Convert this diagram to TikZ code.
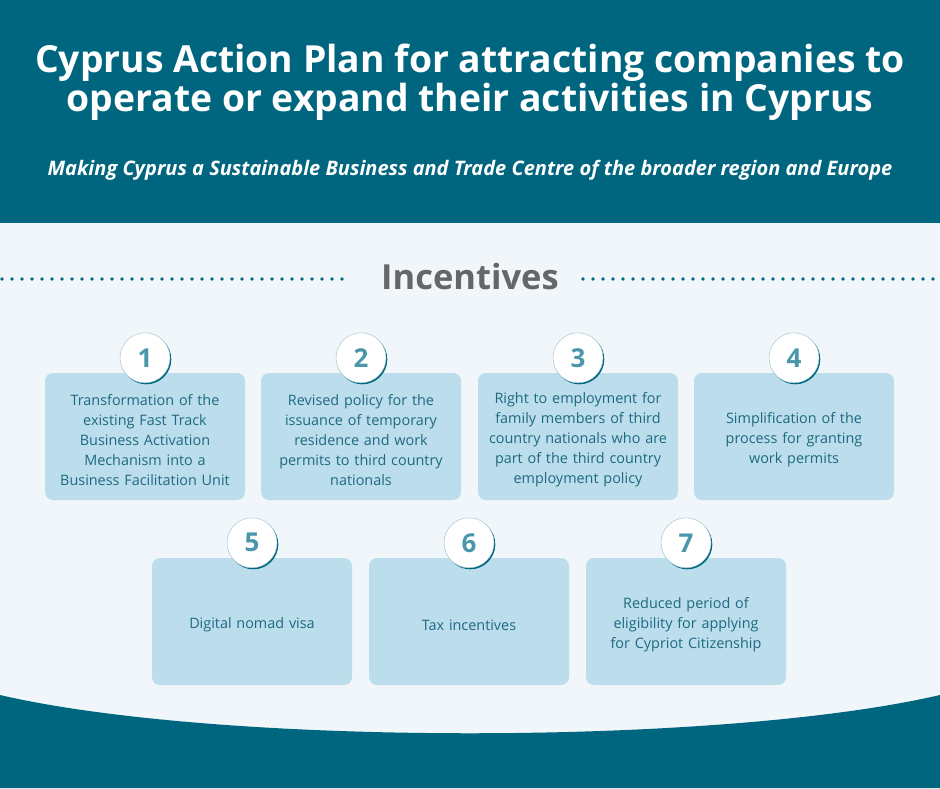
\documentclass[tikz,border=0pt]{standalone}
\usepackage{fontspec}
\setmainfont{Open Sans}
\definecolor{dark}{HTML}{006680}
\definecolor{bg}{HTML}{F0F6F9}
\definecolor{boxc}{HTML}{BCDDEC}
\definecolor{txt}{HTML}{1D6A80}
\definecolor{num}{HTML}{4A97AB}
\definecolor{gr}{HTML}{666666}
\tikzset{
  card/.style={fill=boxc, rounded corners=8pt, minimum width=200pt, minimum height=127pt, inner sep=0pt},
  cardtext/.style={text=txt, font=\fontsize{14.4}{20}\selectfont, align=center, text width=195pt},
  numc/.style={circle, fill=white, draw=dark!35, line width=0.5pt, minimum size=50pt, inner sep=0pt, text=num, font=\fontsize{26}{26}\selectfont\bfseries},
  numshadow/.style={circle, fill=dark, minimum size=50pt, inner sep=0pt},
  dots/.style={dark, line width=3.6pt, line cap=round, dash pattern=on 0pt off 10pt}
}
\begin{document}
\begin{tikzpicture}[x=1pt,y=-1pt]
\useasboundingbox (0,0) rectangle (940,788);
\fill[bg] (0,0) rectangle (940,788);
\fill[dark] (0,0) rectangle (940,223);
\fill[dark] (0,695) .. controls (220,746) and (720,746) .. (940,695) -- (940,788) -- (0,788) -- cycle;
\node[text=white, font=\fontsize{37.3}{39}\selectfont\bfseries, align=center] (title) at (470,82) {Cyprus Action Plan for attracting companies to\\operate or expand their activities in Cyprus};
\node[text=white, font=\fontsize{20}{24}\selectfont\bfseries\itshape] (sub) at (470,170) {Making Cyprus a Sustainable Business and Trade Centre of the broader region and Europe};
\node[text=gr, font=\fontsize{34.5}{38}\selectfont\bfseries] (inc) at (470,277) {Incentives};
\coordinate (l1) at (2,279); \coordinate (l2) at (352,279);
\coordinate (r1) at (583,279); \coordinate (r2) at (940,279);
\draw[dots] (l1) -- (l2);
\draw[dots] (r1) -- (r2);
\foreach \n/\cx/\cy/\t in {
 1/145/436.5/{Transformation of the\\existing Fast Track\\Business Activation\\Mechanism into a\\Business Facilitation Unit},
 2/361/436.5/{Revised policy for the\\issuance of temporary\\residence and work\\permits to third country\\nationals},
 3/578/436.5/{Right to employment for\\family members of third\\country nationals who are\\part of the third country\\employment policy},
 4/794/436.5/{Simplification of the\\process for granting\\work permits},
 5/252/621.5/{Digital nomad visa},
 6/469/621.5/{Tax incentives},
 7/686/621.5/{Reduced period of\\eligibility for applying\\for Cypriot Citizenship}}{
  \node[card] (b\n) at (\cx,\cy) {};
  \node[cardtext] (t\n) at (\cx,\cy+3.5) {\t};
  \node[numshadow] (s\n) at ([shift={(1.3,-13.5)}]b\n.north) {};
  \node[numc] (c\n) at ([shift={(0,-15)}]b\n.north) {\n};
}
\end{tikzpicture}
\end{document}
